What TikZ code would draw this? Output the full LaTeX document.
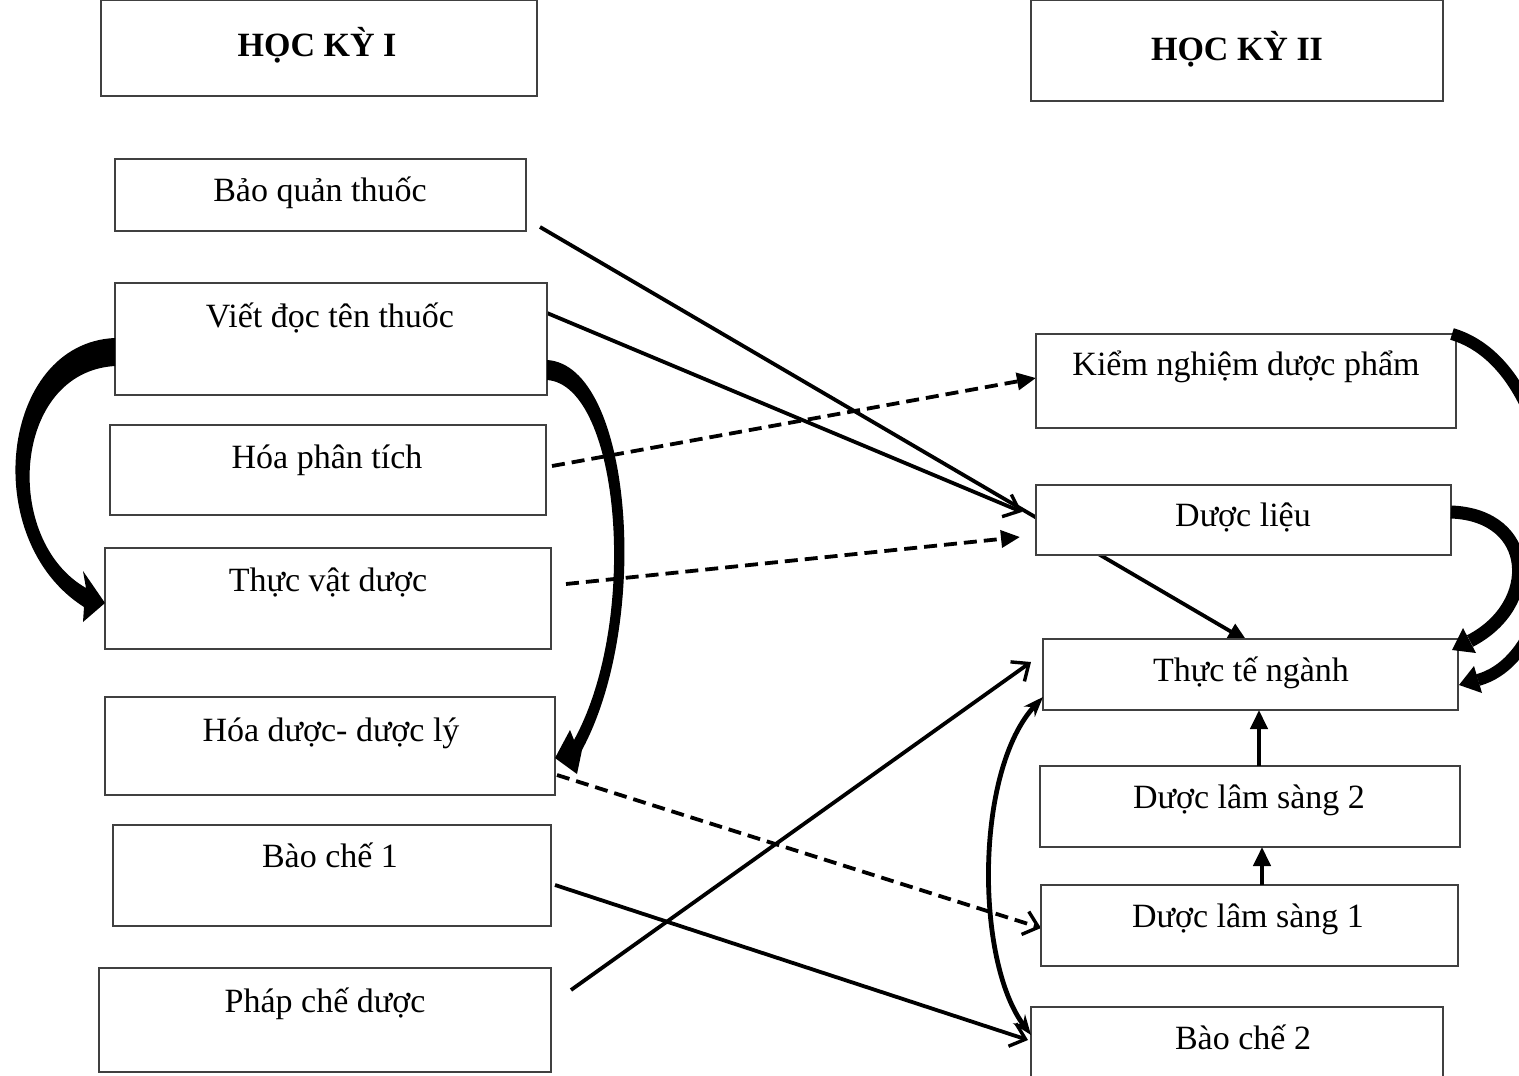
\documentclass[tikz,border=0pt]{standalone}
\usepackage{fontspec}
\setmainfont{Liberation Serif}
\usetikzlibrary{arrows.meta}
\pgfdeclarelayer{bg}
\pgfsetlayers{bg,main}
\begin{document}
\begin{tikzpicture}[x=1pt,y=-1pt,
  box/.style={draw=black!75, line width=1.4pt, fill=white, inner sep=0pt, outer sep=0pt},
  lbl/.style={font=\fontsize{34}{40}\selectfont, anchor=base, inner sep=0pt},
  hdr/.style={lbl, font=\fontsize{34}{40}\selectfont\bfseries},
  conn/.style={line width=3.8pt},
  dsh/.style={line width=3.8pt, dash pattern=on 13pt off 7pt},
  opentip/.style={-{Straight Barb[length=14pt,width=24pt,line width=3.4pt]}},
  filltip/.style={-{Triangle[length=19pt,width=17pt]}}]
\useasboundingbox (0,0) rectangle (1519,1076);
\begin{pgfonlayer}{bg}
\fill[white] (0,0) rectangle (1519,1076);
\end{pgfonlayer}
% boxes (centre, width, height)
\node[box, minimum width=436pt, minimum height=96pt] (h1) at (319,48) {};
\node[box, minimum width=412pt, minimum height=101pt] (h2) at (1237,50.5) {};
\node[box, minimum width=411pt, minimum height=72pt] (bq) at (320.5,195) {};
\node[box, minimum width=432pt, minimum height=112pt] (vd) at (331,339) {};
\node[box, minimum width=436pt, minimum height=90pt] (hp) at (328,470) {};
\node[box, minimum width=446pt, minimum height=101pt] (tv) at (328,598.5) {};
\node[box, minimum width=450pt, minimum height=98pt] (hd) at (330,746) {};
\node[box, minimum width=438pt, minimum height=101pt] (bc1) at (332,875.5) {};
\node[box, minimum width=452pt, minimum height=104pt] (pc) at (325,1020) {};
\node[box, minimum width=420pt, minimum height=94pt] (kn) at (1246,381) {};
\node[box, minimum width=415pt, minimum height=70pt] (dl) at (1243.5,520) {};
\node[box, minimum width=415pt, minimum height=71pt] (tt) at (1250.5,674.5) {};
\node[box, minimum width=420pt, minimum height=81pt] (ls2) at (1250,806.5) {};
\node[box, minimum width=417pt, minimum height=81pt] (ls1) at (1249.5,925.5) {};
\node[box, minimum width=412pt, minimum height=80pt] (bc2) at (1237,1047) {};
% labels
\node[hdr] (t1) at (317,56) {HỌC KỲ I};
\node[hdr] (t2) at (1237,60) {HỌC KỲ II};
\node[lbl] (tbq) at (320,201) {Bảo quản thuốc};
\node[lbl] (tvd) at (330,327) {Viết đọc tên thuốc};
\node[lbl] (thp) at (327,468) {Hóa phân tích};
\node[lbl] (ttv) at (328,591) {Thực vật dược};
\node[lbl] (thd) at (331,741) {Hóa dược- dược lý};
\node[lbl] (tbc1) at (330,867) {Bào chế 1};
\node[lbl] (tpc) at (325,1012) {Pháp chế dược};
\node[lbl] (tkn) at (1246,375) {Kiểm nghiệm dược phẩm};
\node[lbl] (tdl) at (1243,526) {Dược liệu};
\node[lbl] (ttt) at (1251,681) {Thực tế ngành};
\node[lbl] (tls2) at (1249,808) {Dược lâm sàng 2};
\node[lbl] (tls1) at (1248,927) {Dược lâm sàng 1};
\node[lbl] (tbc2) at (1243,1049) {Bào chế 2};
% connector end points
\coordinate (bqS) at (540,227);
\coordinate (ttTop) at (1247,641);
\coordinate (vdS) at (547,313);
\coordinate (dlIn) at (1022,512);
\coordinate (hpS) at (552,466);
\coordinate (knIn) at (1036,378);
\coordinate (tvS) at (566,584);
\coordinate (dlIn2) at (1020,537);
\coordinate (hdS) at (557,775);
\coordinate (ls1In) at (1041,928);
\coordinate (bc1S) at (555,885);
\coordinate (bc2In) at (1028,1040);
\coordinate (pcS) at (571,990);
\coordinate (ttIn) at (1031,662);
\begin{pgfonlayer}{bg}
\draw[conn, filltip] (bqS) -- (ttTop);
\draw[conn, opentip] (vdS) -- (dlIn);
\draw[dsh, filltip] (hpS) -- (knIn);
\draw[dsh, filltip] (tvS) -- (dlIn2);
\draw[dsh, opentip] (hdS) -- (ls1In);
\draw[conn, opentip] (bc1S) -- (bc2In);
\draw[conn, opentip] (pcS) -- (ttIn);
\end{pgfonlayer}
% vertical arrows
\draw[line width=4.2pt, filltip] (ls1.north -| 1262,0) -- (ls2.south -| 1262,0);
\draw[line width=4.2pt, filltip] (ls2.north -| 1259,0) -- (tt.south -| 1259,0);
% curved double arrow between Bao che 2 and Thuc te nganh
\draw[line width=4.8pt, {Stealth[length=20pt,width=15pt]}-{Stealth[length=20pt,width=15pt]}]
  (bc2.west |- 0,1035) .. controls (975,960) and (975,770) .. (tt.west |- 0,697);
% big left curved arrow: Viet doc -> Thuc vat duoc
\fill (vd.west |- 0,338) .. controls (0,343) and (-22,540) .. (84,607)
  -- (83,622) -- (tv.west |- 0,603) -- (83,571) -- (86,588)
  .. controls (2,540) and (12,372) .. (vd.west |- 0,366) -- cycle;
% big right curved arrow: Viet doc -> Hoa duoc
\fill (vd.east |- 0,360) .. controls (632,365) and (652,620) .. (582,750)
  -- (577,774) -- (hd.east |- 0,758) -- (570,730) -- (574,740)
  .. controls (640,620) and (620,385) .. (vd.east |- 0,380) -- cycle;
% right ragged arrows
\draw[line width=12pt] (kn.north east) ++(-4,0) .. controls (1575,370) and (1585,650) .. (1478,680);
\fill (1459,685) -- (1482,693) -- (1474,666) -- cycle;
\draw[line width=13pt] (dl.east |- 0,512) .. controls (1535,515) and (1540,605) .. (1470,641);
\fill (1452,650) -- (1476,653) -- (1463,628) -- cycle;
\end{tikzpicture}
\end{document}
